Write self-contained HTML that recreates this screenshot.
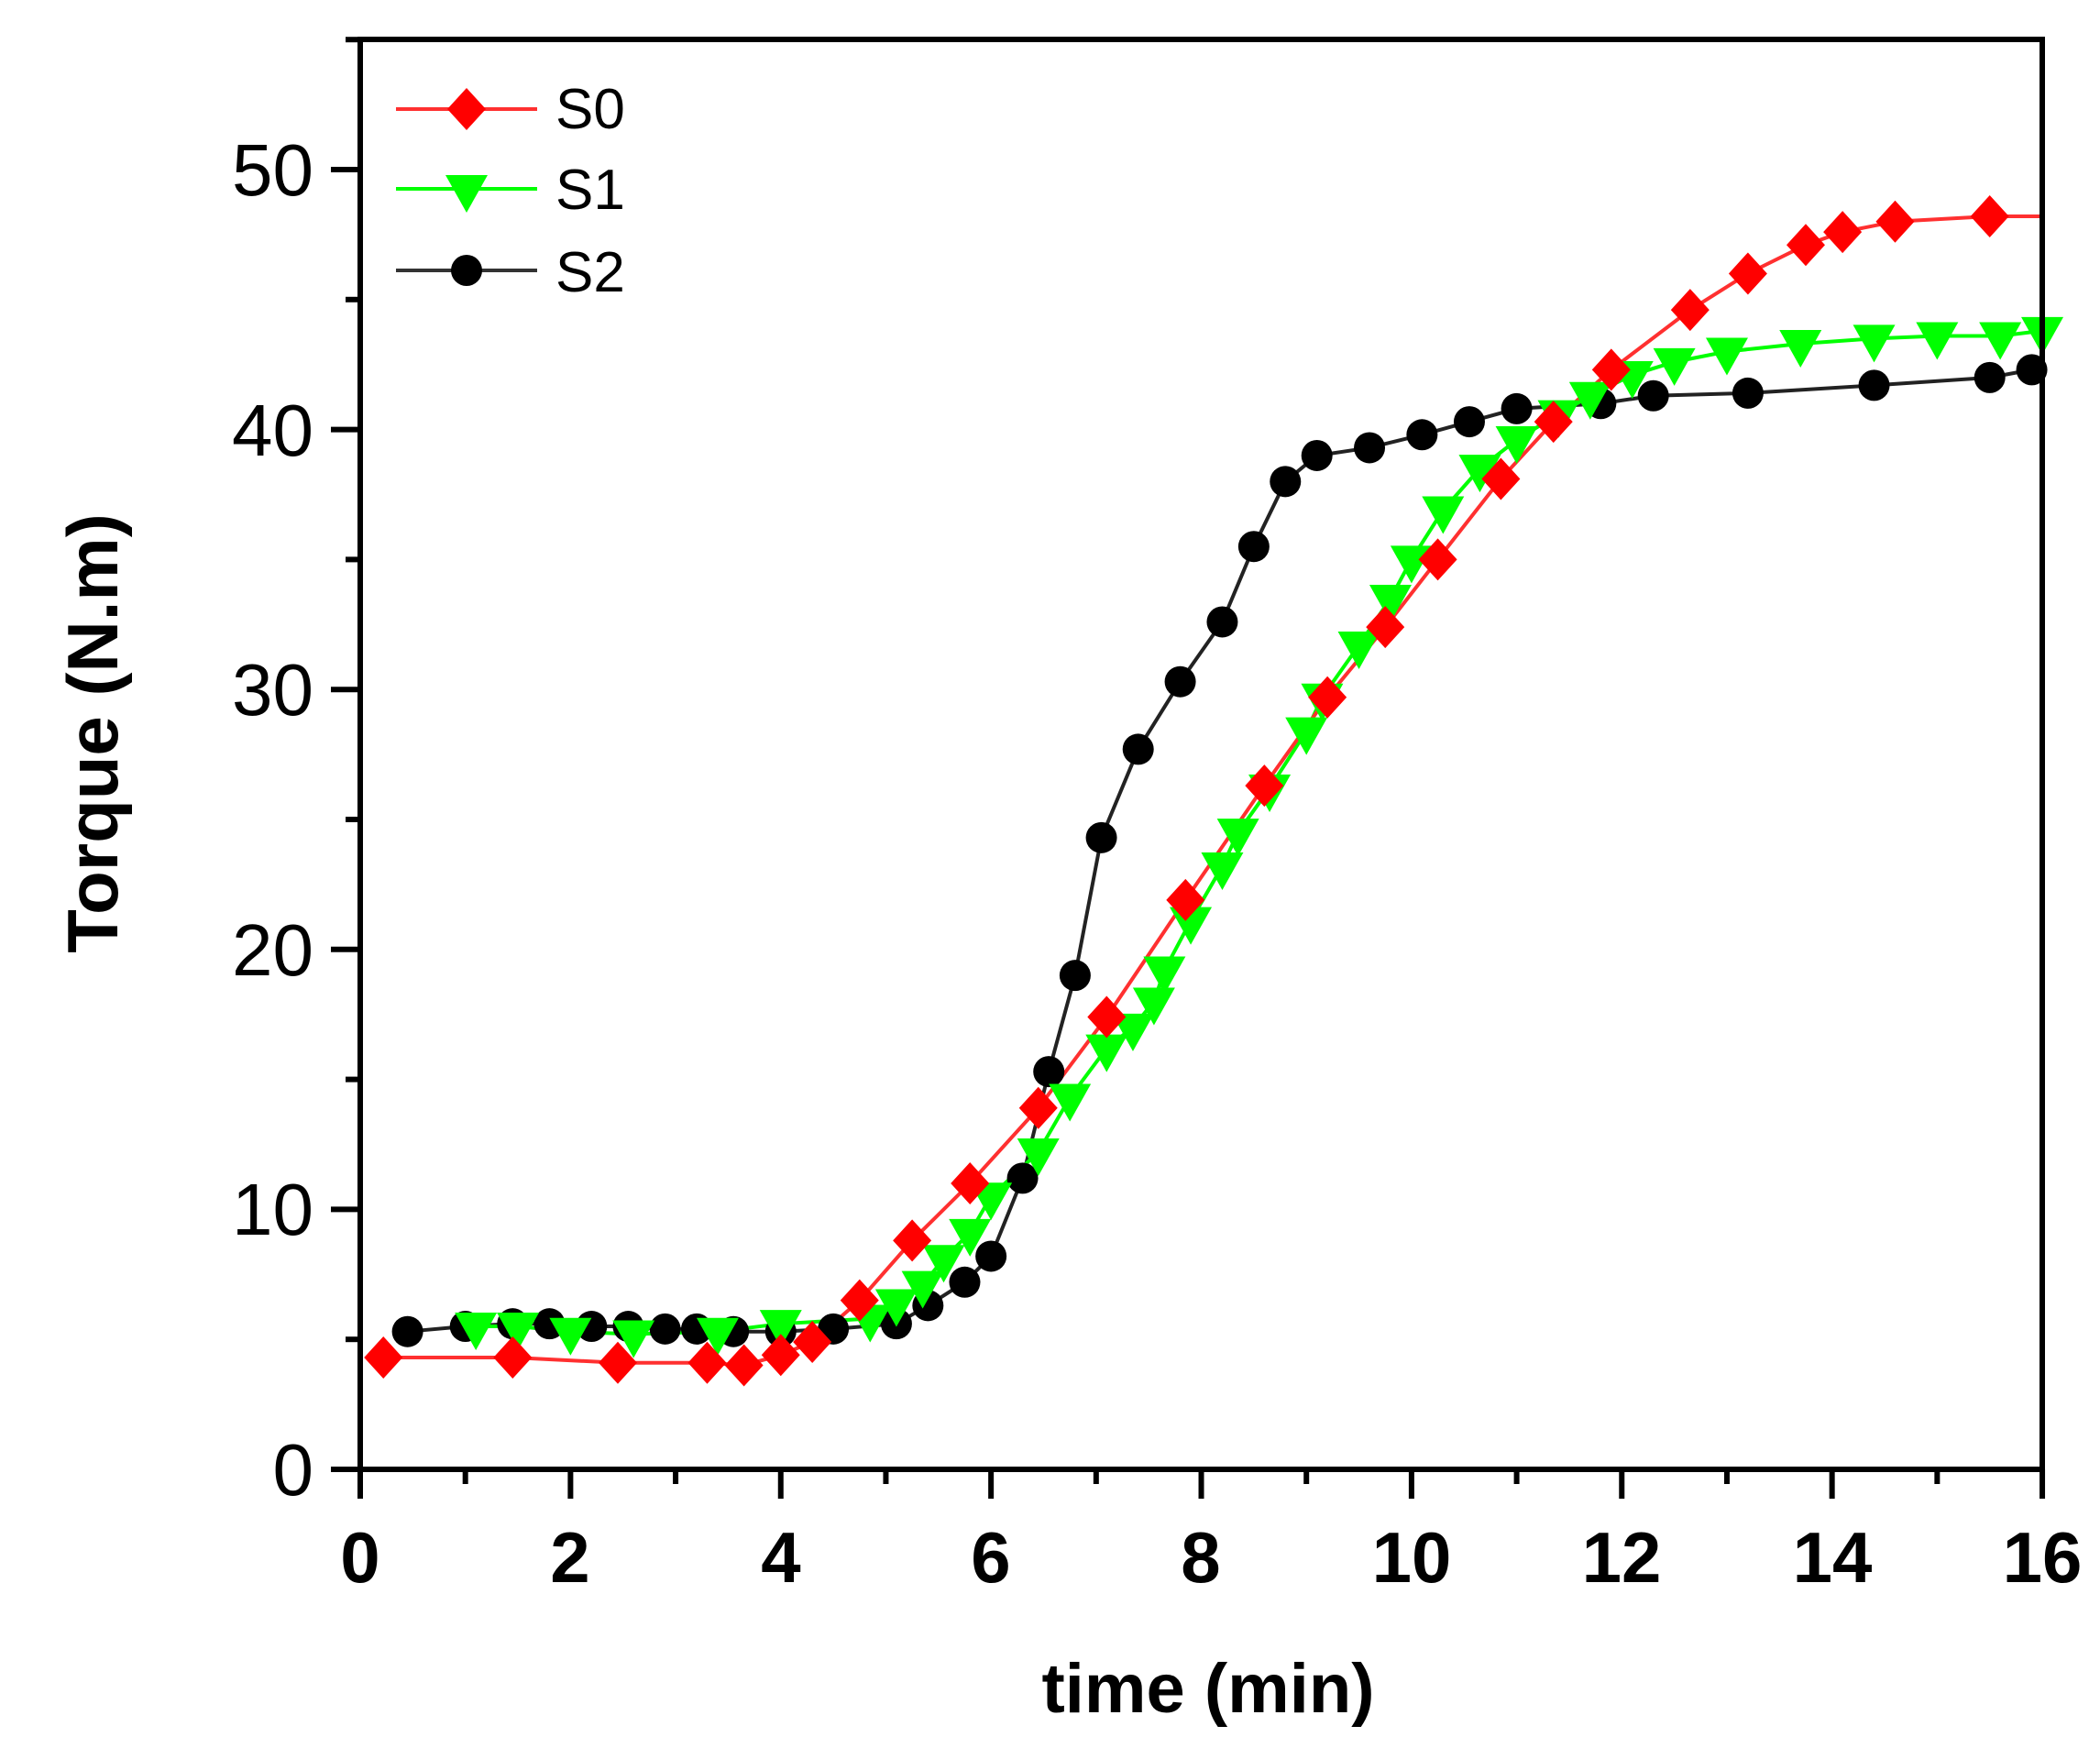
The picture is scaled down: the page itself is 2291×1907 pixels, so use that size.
<!DOCTYPE html>
<html><head><meta charset="utf-8"><style>
html,body{margin:0;padding:0;background:#fff}
svg{display:block}
text{font-family:"Liberation Sans",Arial,sans-serif}
</style></head><body>
<svg id="s" width="2291" height="1907" viewBox="0 0 2291 1907" xmlns="http://www.w3.org/2000/svg">
<rect width="2291" height="1907" fill="#fff"/>
<g id="data"></g>
<g id="axes" stroke="#000" stroke-width="6" fill="none">
<rect x="393" y="43" width="1835" height="1560"/>
</g>
<g id="ticks" stroke="#000" stroke-width="6"></g>
<g font-weight="bold" font-size="78" fill="#000" text-anchor="middle">
<text x="393" y="1726">0</text><text x="622" y="1726">2</text><text x="852" y="1726">4</text><text x="1081" y="1726">6</text><text x="1310" y="1726">8</text><text x="1540" y="1726">10</text><text x="1769" y="1726">12</text><text x="1999" y="1726">14</text><text x="2228" y="1726">16</text>
</g>
<g font-size="80" fill="#000" text-anchor="end">
<text x="342" y="1631">0</text><text x="342" y="1347">10</text><text x="342" y="1064">20</text><text x="342" y="780">30</text><text x="342" y="497">40</text><text x="342" y="213">50</text>
</g>
<text x="1318" y="1868" font-size="76" font-weight="bold" text-anchor="middle">time (min)</text>
<text transform="translate(128,800) rotate(-90)" font-size="78" font-weight="bold" text-anchor="middle">Torque (N.m)</text>
<g font-size="62" fill="#000">
<text x="606" y="140">S0</text><text x="606" y="228">S1</text><text x="606" y="318">S2</text>
</g>
<g id="legend"></g>
</svg>
<script>
var NS="http://www.w3.org/2000/svg";
function X(t){return 393+t*114.69}
function Y(v){return 1603-v*28.36}
function el(p,n,a){var e=document.createElementNS(NS,n);for(var k in a)e.setAttribute(k,a[k]);p.appendChild(e);return e}
var tk=document.getElementById('ticks');
for(var i=0;i<=16;i++){var x=X(i);el(tk,'line',{x1:x,y1:1603,x2:x,y2:1603+(i%2==0?32:16)});}
for(var v=0;v<=55;v+=5){var y=Y(v);el(tk,'line',{x1:393,y1:y,x2:393-(v%10==0?32:16),y2:y});}
var S0=[[0.22,4.3],[1.45,4.3],[2.45,4.1],[3.3,4.1],[3.65,4.0],[4.0,4.4],[4.3,4.9],[4.75,6.5],[5.25,8.8],[5.8,11.0],[6.45,13.9],[7.1,17.4],[7.85,21.9],[8.6,26.3],[9.2,29.7],[9.75,32.4],[10.25,35.0],[10.85,38.1],[11.35,40.3],[11.9,42.3],[12.65,44.6],[13.2,46.0],[13.75,47.1],[14.1,47.6],[14.6,48.0],[15.5,48.2]];
var S1=[[1.1,5.5],[1.5,5.5],[2.0,5.3],[2.6,5.2],[3.4,5.3],[4.0,5.6],[4.85,5.8],[5.1,6.4],[5.35,7.1],[5.55,8.1],[5.8,9.1],[6.0,10.5],[6.45,12.2],[6.75,14.3],[7.1,16.2],[7.35,17.0],[7.55,18.0],[7.65,19.2],[7.9,21.1],[8.2,23.2],[8.35,24.5],[8.65,26.2],[9.0,28.4],[9.15,29.7],[9.5,31.7],[9.8,33.5],[10.0,35.0],[10.3,36.9],[10.65,38.5],[11.0,39.6],[11.4,40.6],[11.7,41.3],[12.1,42.1],[12.5,42.6],[13.0,43.0],[13.7,43.3],[14.4,43.5],[15.0,43.6],[15.6,43.6],[16.0,43.8]];
var S2=[[0.45,5.3],[1.0,5.5],[1.45,5.6],[1.8,5.6],[2.2,5.5],[2.55,5.5],[2.9,5.4],[3.2,5.4],[3.55,5.3],[4.0,5.3],[4.5,5.4],[5.1,5.6],[5.4,6.3],[5.75,7.2],[6.0,8.2],[6.3,11.2],[6.55,15.3],[6.8,19.0],[7.05,24.3],[7.4,27.7],[7.8,30.3],[8.2,32.6],[8.5,35.5],[8.8,38.0],[9.1,39.0],[9.6,39.3],[10.1,39.8],[10.55,40.3],[11.0,40.8],[11.8,41.0],[12.3,41.3],[13.2,41.4],[14.4,41.7],[15.5,42.0],[15.9,42.3]];
var g=document.getElementById('data');
function line(d,c,extra){var p=d.map(function(q){return X(q[0])+','+Y(q[1])});if(extra)p.push(X(extra[0])+','+Y(extra[1]));el(g,'polyline',{points:p.join(' '),fill:'none',stroke:c,'stroke-width':4});}
function dia(p,x,y){el(p,'polygon',{points:(x)+','+(y-23)+' '+(x+21)+','+y+' '+x+','+(y+23)+' '+(x-21)+','+y,fill:'#ff0000'});}
function tri(p,x,y){el(p,'polygon',{points:(x-23)+','+(y-15)+' '+(x+23)+','+(y-15)+' '+x+','+(y+26),fill:'#00ff00'});}
function cir(p,x,y){el(p,'circle',{cx:x,cy:y,r:17,fill:'#000'});}
line(S2,'#222');line(S1,'#00ff00');line(S0,'#ff3030',[16,48.2]);
S2.forEach(function(q){cir(g,X(q[0]),Y(q[1]))});
S1.forEach(function(q){tri(g,X(q[0]),Y(q[1]))});
S0.forEach(function(q){dia(g,X(q[0]),Y(q[1]))});
var L=document.getElementById('legend');
el(L,'line',{x1:432,y1:119,x2:586,y2:119,stroke:'#ff3030','stroke-width':4});dia(L,509,119);
el(L,'line',{x1:432,y1:206,x2:586,y2:206,stroke:'#00ff00','stroke-width':4});tri(L,509,206);
el(L,'line',{x1:432,y1:295,x2:586,y2:295,stroke:'#333','stroke-width':4});cir(L,509,295);
</script>
</body></html>
